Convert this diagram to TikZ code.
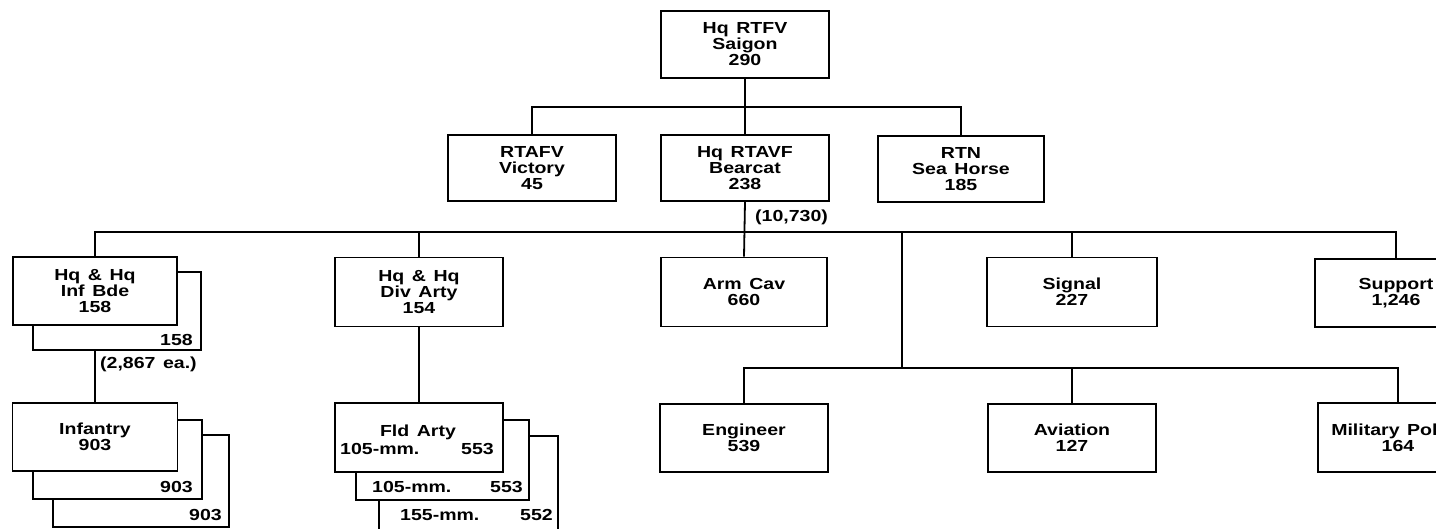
\documentclass[tikz,border=0pt]{standalone}
\usepackage{fontspec}
\newfontfamily\lab[FakeStretch=1.22,WordSpace=1.4]{Liberation Sans}
\usetikzlibrary{backgrounds}
\begin{document}
\begin{tikzpicture}[x=1pt,y=-1pt,
  box/.style={draw,line width=1.8pt,fill=white,rectangle,align=center,inner sep=0pt,
    font=\lab\bfseries\fontsize{16}{16}\selectfont},
  txt/.style={inner sep=0pt,font=\lab\bfseries\fontsize{16}{16}\selectfont},
  conn/.style={line width=1.8pt}]
\useasboundingbox (0,0) rectangle (1436,529);
\clip (0,0) rectangle (1436,529);
% level 0/1
\node[box,minimum width=168pt,minimum height=67pt] (top) at (745,44.5) {Hq RTFV\\Saigon\\290};
\node[box,minimum width=168pt,minimum height=66pt] (rtafv) at (532,168) {RTAFV\\Victory\\45};
\node[box,minimum width=168pt,minimum height=66pt] (bearcat) at (745,168) {Hq RTAVF\\Bearcat\\238};
\node[box,minimum width=166pt,minimum height=66pt] (rtn) at (961,169) {RTN\\Sea Horse\\185};
\node[txt,anchor=west] (tot) at (755,217) {(10,730)};
% level 2
\node[box,minimum width=168pt,minimum height=78pt] (infbdeb) at (117,311) {};
\node[txt,anchor=east] (infbdebn) at (193,340) {158};
\node[box,minimum width=164pt,minimum height=68pt] (infbde) at (95,291) {Hq \& Hq\\Inf Bde\\158};
\node[txt,anchor=west] (ea) at (100,364) {(2,867 ea.)};
\node[box,minimum width=168pt,minimum height=69pt] (divarty) at (419,292) {Hq \& Hq\\Div Arty\\154};
\node[box,minimum width=166pt,minimum height=69pt] (armcav) at (744,292) {Arm Cav\\660};
\node[box,minimum width=170pt,minimum height=69pt] (signal) at (1072,292) {Signal\\227};
\node[box,minimum width=162pt,minimum height=68pt] (support) at (1396,293) {Support\\1,246};
% level 3
\node[box,minimum width=176pt,minimum height=92pt] (inf3) at (141,481) {};
\node[txt,anchor=east] (inf3n) at (222,515) {903};
\node[box,minimum width=169pt,minimum height=79pt] (inf2) at (117.5,459.5) {};
\node[txt,anchor=east] (inf2n) at (193,487) {903};
\node[box,minimum width=165pt,minimum height=68pt] (infantry) at (95,437) {Infantry\\903};
\node[box,minimum width=179pt,minimum height=100pt] (fa3) at (468.5,486) {};
\node[txt,anchor=west] (fa3l) at (400,515) {155-mm.};
\node[txt,anchor=east] (fa3r) at (553,515) {552};
\node[box,minimum width=173pt,minimum height=80pt] (fa2) at (442.5,460) {};
\node[txt,anchor=west] (fa2l) at (372,487) {105-mm.};
\node[txt,anchor=east] (fa2r) at (523,487) {553};
\node[box,minimum width=168pt,minimum height=69pt] (fldarty) at (419,437.5) {};
\node[txt] (fat) at (418,432) {Fld Arty};
\node[txt,anchor=west] (fa1l) at (340,449) {105-mm.};
\node[txt,anchor=east] (fa1r) at (494,449) {553};
\node[box,minimum width=168pt,minimum height=68pt] (engineer) at (744,438) {Engineer\\539};
\node[box,minimum width=168pt,minimum height=68pt] (aviation) at (1072,438) {Aviation\\127};
\node[box,minimum width=160pt,minimum height=69pt] (mp) at (1398,437.5) {Military Police\\164};
% connectors
\coordinate (b1) at (745,107);
\coordinate (b2) at (745,232);
\coordinate (b3) at (902,232);
\coordinate (b4) at (902,368);
\begin{scope}[on background layer]
\draw[conn] (top.south) -- (bearcat.north);
\draw[conn] (rtafv.north) |- (b1) -| (rtn.north);
\draw[conn] (bearcat.south) -- (armcav.north);
\draw[conn] (infbde.north) |- (b2) -| (support.north);
\draw[conn] (divarty.north) -- (divarty.north |- b2);
\draw[conn] (signal.north) -- (signal.north |- b2);
\draw[conn] (b3) -- (b4);
\draw[conn] (engineer.north) |- (b4) -| (mp.north);
\draw[conn] (aviation.north) -- (aviation.north |- b4);
\draw[conn] (infbde.south) -- (infantry.north);
\draw[conn] (divarty.south) -- (fldarty.north);
\end{scope}
\end{tikzpicture}
\end{document}
